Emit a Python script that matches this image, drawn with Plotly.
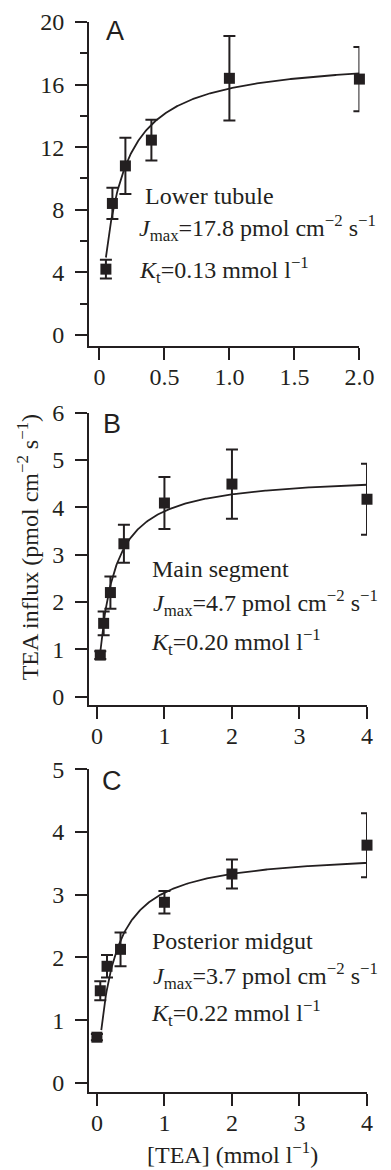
import numpy as np
import plotly.graph_objects as go

# ---------------- data ----------------
# Panel A - Lower tubule
a_conc = [0.05, 0.1, 0.2, 0.4, 1.0, 2.0]
a_flux = [4.2, 8.4, 10.8, 12.45, 16.4, 16.35]
a_err = [0.6, 1.0, 1.8, 1.3, 2.7, 2.05]
a_jmax, a_kt = 17.8, 0.13

# Panel B - Main segment
b_conc = [0.05, 0.1, 0.2, 0.4, 1.0, 2.0, 4.0]
b_flux = [0.88, 1.55, 2.2, 3.23, 4.09, 4.49, 4.17]
b_err = [0.08, 0.25, 0.34, 0.4, 0.55, 0.73, 0.75]
b_jmax, b_kt = 4.7, 0.20

# Panel C - Posterior midgut
c_conc = [0.0, 0.05, 0.15, 0.35, 1.0, 2.0, 4.0]
c_flux = [0.73, 1.47, 1.86, 2.13, 2.88, 3.33, 3.79]
c_err = [0.05, 0.15, 0.18, 0.27, 0.18, 0.23, 0.51]
c_jmax, c_kt = 3.7, 0.22

a_ticks = [0, 0.5, 1.0, 1.5, 2.0]
a_ticktext = ["0", "0.5", "1.0", "1.5", "2.0"]
bc_ticks = [0, 1, 2, 3, 4]

INK = "#231f20"
SERIF = "Liberation Serif, Times New Roman, serif"
SANS = "Liberation Sans, Arial, sans-serif"

def mm_curve(x0, x1, jmax, kt):
    xs = np.linspace(x0, x1, 300)
    return xs, jmax * xs / (kt + xs)

fig = go.Figure()

panels = [
    ("x", "y", a_conc, a_flux, a_err, a_jmax, a_kt, 0.05, 2.0),
    ("x2", "y2", b_conc, b_flux, b_err, b_jmax, b_kt, 0.05, 4.0),
    ("x3", "y3", c_conc, c_flux, c_err, c_jmax, c_kt, 0.065, 4.0),
]
for xa, ya, cx, cy, ce, jm, kt, x0, x1 in panels:
    xs, ys = mm_curve(x0, x1, jm, kt)
    fig.add_trace(go.Scatter(x=xs, y=ys, mode="lines", xaxis=xa, yaxis=ya,
                             line=dict(color=INK, width=1.8), showlegend=False,
                             hoverinfo="skip", cliponaxis=False))
    fig.add_trace(go.Scatter(x=cx, y=cy, mode="markers", xaxis=xa, yaxis=ya,
                             marker=dict(symbol="square", size=11, color=INK),
                             error_y=dict(type="data", array=ce, visible=True,
                                          color=INK, thickness=2, width=6),
                             showlegend=False, cliponaxis=False))

# layout geometry (pixels)
W, H = 391, 1170
L, R, T, B = 89, 9, 18, 78
ph = H - T - B
pw = W - L - R

def ydom(top_px, bot_px):
    return [(H - B - bot_px) / ph, (H - B - top_px) / ph]

tickfont = dict(family=SERIF, size=24, color=INK)
axis_common = dict(showline=True, linecolor=INK, linewidth=2, ticks="outside",
                   ticklen=12, tickwidth=2, tickcolor=INK, showgrid=False,
                   zeroline=False, tickfont=tickfont)
xstand = dict(ticklabelstandoff=-4)
ystand = dict(ticklabelstandoff=6)

fig.update_layout(
    width=W, height=H,
    margin=dict(l=L, r=R, t=T, b=B, pad=0),
    paper_bgcolor="white", plot_bgcolor="white",
    xaxis=dict(domain=[0, (374 - L) / pw], range=[-0.08, 2.0], anchor="y",
               tickvals=a_ticks, ticktext=a_ticktext, **axis_common, **xstand),
    yaxis=dict(domain=ydom(18, 343), range=[-0.7, 20], anchor="x",
               tickvals=[0, 4, 8, 12, 16, 20],
               minor=dict(dtick=2, ticks="outside", ticklen=7, tickwidth=2,
                          tickcolor=INK, showgrid=False, tick0=0),
               **axis_common, **ystand),
    xaxis2=dict(domain=[0, 1], range=[-0.117, 4.0], anchor="y2",
                tickvals=bc_ticks, **axis_common, **xstand),
    yaxis2=dict(domain=ydom(410, 704), range=[-0.183, 6], anchor="x2",
                tickvals=[0, 1, 2, 3, 4, 5, 6], **axis_common, **ystand),
    xaxis3=dict(domain=[0, 1], range=[-0.117, 4.0], anchor="y3",
                tickvals=bc_ticks, **axis_common, **xstand),
    yaxis3=dict(domain=ydom(768, 1092), range=[-0.143, 5], anchor="x3",
                tickvals=[0, 1, 2, 3, 4, 5], **axis_common, **ystand),
)

txt = dict(family=SERIF, size=24, color=INK)
ann = []
def add(text, x, y, xr, yr, font=txt, xanchor="left"):
    ann.append(dict(text=text, x=x, y=y, xref=xr, yref=yr, showarrow=False,
                    xanchor=xanchor, yanchor="middle", font=font))

letter = dict(family=SANS, size=27, color=INK)
add("A", 0.036, 19.4, "x", "y", letter)
add("B", 0.066, 5.76, "x2", "y2", letter)
add("C", 0.04, 4.81, "x3", "y3", letter)

add("Lower tubule", 0.336, 8.85, "x", "y")
add("<i>J</i><sub>max</sub>=17.8 pmol cm<sup>−2</sup> s<sup>−1</sup>", 0.29, 6.8, "x", "y")
add("<i>K</i><sub>t</sub>=0.13 mmol l<sup>−1</sup>", 0.29, 4.14, "x", "y")

add("Main segment", 0.78, 2.7, "x2", "y2")
add("<i>J</i><sub>max</sub>=4.7 pmol cm<sup>−2</sup> s<sup>−1</sup>", 0.8, 1.97, "x2", "y2")
add("<i>K</i><sub>t</sub>=0.20 mmol l<sup>−1</sup>", 0.77, 1.16, "x2", "y2")

add("Posterior midgut", 0.78, 2.27, "x3", "y3")
add("<i>J</i><sub>max</sub>=3.7 pmol cm<sup>−2</sup> s<sup>−1</sup>", 0.8, 1.71, "x3", "y3")
add("<i>K</i><sub>t</sub>=0.22 mmol l<sup>−1</sup>", 0.77, 1.11, "x3", "y3")

# axis titles
ann.append(dict(text="TEA influx (pmol cm<sup>−2</sup> s<sup>−1</sup>)",
                x=(25 - L) / pw, y=(H - B - 545) / ph, xref="paper", yref="paper",
                textangle=-90, showarrow=False, xanchor="center", yanchor="middle",
                font=txt))
ann.append(dict(text="[TEA] (mmol l<sup>−1</sup>)",
                x=(240 - L) / pw, y=(H - B - 1153) / ph, xref="paper", yref="paper",
                showarrow=False, xanchor="center", yanchor="middle", font=txt))

fig.update_layout(annotations=ann)

fig.write_html("out.html", config={"displayModeBar": False},
               post_script="document.body.style.margin='0px';document.body.style.overflow='hidden';")
